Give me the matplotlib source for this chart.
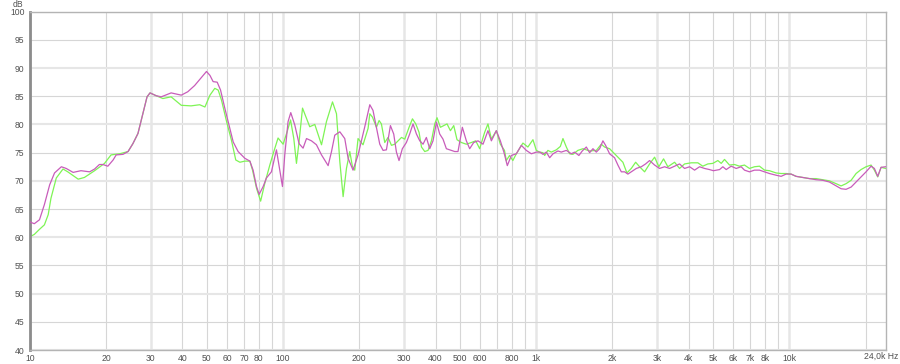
import matplotlib
matplotlib.use("Agg")
import matplotlib.pyplot as plt

# ---------------- data ----------------
freq_magenta = [10, 10.4, 10.9, 11.4, 11.96, 12.5, 13.3, 13.9, 14.8, 15.9, 17.2, 18.0, 18.8, 19.4,
                20.3, 21.3, 21.9, 23.3, 24.4, 25.5, 26.7, 27.9, 29.0, 29.8, 31.5, 33.0, 36.1, 39.6,
                42.0, 44.7, 47.5, 49.8, 51.4, 52.9, 54.9, 56.6, 58.9, 61.6, 63.5, 66.4, 70.6, 73.9,
                76.1, 78.5, 80.4, 83.4, 85.9, 89.9, 94.1, 97.0, 99.4, 101.5, 104.6, 107.2, 111.2,
                115.6, 119.9, 123.7, 129.4, 135.4, 141.8, 150.6, 155.3, 160.0, 167.5, 175.2, 180.6,
                188.9, 197.7, 210.2, 220, 226.5, 233.7, 240.9, 248.3, 255.9, 265.4, 273.5, 280.3,
                287, 295.8, 306.9, 316.2, 326, 336.3, 346.6, 357.1, 368.1, 379.4, 391, 403.4, 415.6,
                428.2, 441.5, 455, 476.3, 490.8, 510.6, 529.5, 545.8, 566, 588.8, 616.3, 644.6,
                664.9, 695.6, 721.4, 745, 768.6, 797.4, 834.2, 873, 913.7, 956.5, 1001, 1034, 1063,
                1096, 1130, 1165, 1218, 1256, 1315, 1376, 1418, 1474, 1520, 1577, 1625, 1675, 1727,
                1780, 1834, 1879, 1949, 2039, 2102, 2168, 2234, 2302, 2374, 2485, 2600, 2704, 2804,
                2935, 3070, 3214, 3365, 3520, 3683, 3855, 4035, 4222, 4418, 4623, 4837, 5013, 5300,
                5460, 5630, 5890, 6166, 6451, 6648, 6958, 7280, 7620, 7978, 8343, 8866, 9279, 9708,
                10160, 10630, 11300, 12005, 12760, 13550, 14390, 15300, 16010, 16750, 17540, 18350,
                19190, 20090, 21030, 21670, 22340, 23030, 24000]
db_magenta = [62.7, 62.4, 63.1, 65.8, 69.3, 71.4, 72.5, 72.2, 71.5, 71.8, 71.6, 72.1, 72.9, 72.9,
              72.6, 73.7, 74.6, 74.7, 75.2, 76.6, 78.4, 81.9, 84.9, 85.6, 85.1, 84.9, 85.6, 85.2,
              85.8, 86.9, 88.3, 89.4, 88.7, 87.6, 87.5, 86.1, 82.8, 79.3, 76.9, 75.2, 74.0, 73.5,
              71.9, 69.0, 67.6, 69.0, 70.5, 71.6, 75.5, 71.9, 69.0, 74.6, 80.5, 82.1, 79.9,
              76.6, 75.8, 77.5, 77.1, 76.4, 74.6, 72.7, 75.2, 78.1, 78.7, 77.5, 74.0,
              71.9, 74.6, 79.6, 83.5, 82.5, 79.5, 76.5, 75.4, 75.5, 79.8, 78.3, 75.1,
              73.6, 75.7, 76.8, 78.3, 80.1, 78.3, 77.1, 76.5, 77.7, 75.7, 77.1, 80.4, 78.3,
              77.4, 75.7, 75.5, 75.2, 75.2, 79.5, 77.1, 75.7, 76.8, 77.1, 76.5, 78.9,
              77.1, 78.9, 77.1, 75.1, 72.7, 74.5, 74.8, 76.3, 75.4, 74.8, 75.1, 75.1, 74.7,
              75.1, 74.1, 74.8, 75.3, 75.1, 75.4, 74.8, 75.1, 74.5, 75.3, 76.0, 75.0, 75.7, 75.1,
              75.7, 77.1, 76.3, 74.8, 74.1, 72.8, 71.6, 71.6, 71.2, 71.6, 72.2, 72.5, 73.0, 73.6,
              72.8, 72.2, 72.5, 72.2, 72.6, 73.0, 72.2, 72.5, 71.9, 72.5, 72.2, 72.0, 71.8, 72.0,
              72.5, 72.0, 72.6, 72.2, 72.5, 71.9, 71.6, 71.9, 71.9, 71.6, 71.3, 71.0, 70.8, 71.2,
              71.2, 70.8, 70.6, 70.4, 70.2, 70.1, 69.8, 69.1, 68.6, 68.5, 68.9, 69.8,
              70.7, 71.6, 72.6, 72.2, 70.8, 72.4, 72.5]

freq_green = [10, 10.4, 10.9, 11.4, 11.8, 12.1, 12.7, 13.5, 14.1, 15.5, 16.4, 18.0, 19.7, 20.9,
              22.6, 24.4, 25.5, 26.7, 27.9, 29.0, 29.8, 31.5, 33.5, 36.1, 39.6, 43.3, 46.8, 49.1,
              51.4, 53.7, 55.4, 57.1, 59.8, 62.5, 65.0, 67.5, 70.6, 73.9, 75.7, 78.5, 81.5, 84.7,
              88.6, 91.9, 95.5, 100, 103.7, 107.0, 110.2, 112.9, 115.6, 119.3, 122.9, 127.4,
              133.4, 141.8, 148.3, 156.7, 162.5, 167.5, 172.6, 177.9, 183.4, 187.9, 191.9, 197.7,
              206.9, 216.6, 220, 225.4, 233.7, 239.4, 244.5, 252.1, 259.8, 267.9, 276.1, 284.5,
              293.5, 302.4, 314.5, 324.3, 334.2, 344.4, 352.1, 362.7, 373.7, 385.5, 397.2, 405.5,
              418.2, 431, 444.2, 458.1, 472.1, 486.4, 506.1, 529.5, 554.3, 576.7, 597.8, 625.3,
              644.6, 664.9, 695.6, 721.4, 749.2, 761.4, 784.6, 808.4, 834.2, 886, 926.8, 970.5,
              1001, 1031, 1063, 1080, 1112, 1147, 1200, 1245, 1275, 1315, 1355, 1396, 1460, 1529,
              1625, 1727, 1807, 1862, 1949, 2039, 2135, 2200, 2281, 2374, 2470, 2560, 2680, 2804,
              2935, 3051, 3184, 3311, 3520, 3683, 3855, 4097, 4350, 4550, 4764, 4986, 5219, 5380,
              5544, 5801, 6070, 6352, 6648, 6958, 7280, 7620, 7978, 8343, 8866, 9279, 9708, 10160,
              10630, 11300, 12005, 12760, 13550, 14390, 15300, 16010, 16750, 17540, 18350, 19190,
              20090, 21030, 21670, 22340, 23030, 24000]
db_green = [60.1, 60.5, 61.4, 62.2, 64.0, 66.9, 70.5, 72.1, 71.6, 70.3, 70.6, 71.8, 73.1, 74.6,
            74.8, 75.2, 76.6, 78.4, 81.9, 84.9, 85.6, 85.1, 84.6, 84.9, 83.4, 83.3, 83.5, 83.1,
            85.2, 86.4, 86.1, 84.3, 80.5, 77.2, 73.7, 73.3, 73.5, 73.5, 71.9, 68.7, 66.4, 69.6,
            72.8, 75.2, 77.6, 76.5, 78.7, 80.8, 77.5, 73.1, 76.9, 82.9, 81.4, 79.6,
            80.0, 76.4, 80.5, 84.0, 81.9, 73.4, 67.2, 72.2, 75.2, 72.5, 71.9, 77.5,
            76.4, 79.3, 81.9, 81.3, 79.5, 80.7, 80.1, 76.8, 77.7, 76.3, 76.5, 77.1,
            77.7, 77.4, 79.5, 81.0, 80.1, 78.6, 76.0, 75.2, 75.4, 77.1, 80.1, 81.2,
            79.5, 79.8, 80.1, 78.9, 79.8, 77.3, 76.8, 76.5, 76.8, 77.1, 75.7, 78.6,
            80.1, 77.4, 78.9, 76.5, 75.4, 73.6, 74.5, 73.6, 74.8, 76.7, 76.0, 77.3,
            75.4, 75.1, 75.0, 74.5, 75.4, 75.1, 75.5, 76.1, 77.5, 76.0, 74.8, 74.7, 75.4, 75.7,
            75.3, 75.4, 76.5, 76.0, 75.7, 74.8, 73.9, 73.3, 71.4, 72.2, 73.3, 72.5, 71.6, 73.0,
            74.2, 72.5, 73.9, 72.5, 73.3, 72.2, 73.0, 73.2, 73.2, 72.6, 73.0, 73.1, 73.6, 73.1,
            73.8, 72.8, 72.9, 72.6, 72.8, 72.2, 72.5, 72.6, 71.9, 71.8, 71.4, 71.3, 71.3, 71.2,
            70.8, 70.6, 70.4, 70.4, 70.2, 70.0, 69.5, 69.1, 69.5, 70.1, 71.3, 72.0,
            72.5, 72.8, 71.9, 70.7, 72.4, 72.2]

x_tick_values = [10, 20, 30, 40, 50, 60, 70, 80, 100, 200, 300, 400, 500, 600, 800,
                 1000, 2000, 3000, 4000, 5000, 6000, 7000, 8000, 10000]
x_tick_labels = ["10", "20", "30", "40", "50", "60", "70", "80", "100", "200", "300", "400",
                 "500", "600", "800", "1k", "2k", "3k", "4k", "5k", "6k", "7k", "8k", "10k"]
y_tick_values = [40, 45, 50, 55, 60, 65, 70, 75, 80, 85, 90, 95, 100]
x_end_label = "24,0k Hz"
y_unit_label = "dB"

# ---------------- figure ----------------
plt.rcParams['font.family'] = ['Liberation Sans', 'DejaVu Sans']
W, H = 900, 364
fig = plt.figure(figsize=(W / 100, H / 100), dpi=100)
fig.patch.set_facecolor('white')
ax = fig.add_axes([30 / W, 1 - 350 / H, (885.6 - 30) / W, (350 - 11.7) / H])
ax.set_xscale('log')
ax.set_xlim(10, 24000)
ax.set_ylim(40, 100)

# grid
major_x = [10, 30, 100, 300, 1000, 3000, 10000]
grid_x = []
for dec in [10, 100, 1000]:
    grid_x += [dec * k for k in range(1, 10)]
grid_x += [10000, 20000]
for g in grid_x:
    if g in major_x:
        ax.axvline(g, color='#e6e6e6', lw=1.8, zorder=0)
    else:
        ax.axvline(g, color='#d6d6d6', lw=0.8, zorder=0)
for v in y_tick_values:
    if v % 10 == 0:
        ax.axhline(v, color='#e6e6e6', lw=1.5, zorder=0)
    else:
        ax.axhline(v, color='#d6d6d6', lw=0.8, zorder=0)

# curves
ax.plot(freq_magenta, db_magenta, color='#c85cba', lw=0.9, zorder=3)
ax.plot(freq_green, db_green, color='#7ef455', lw=0.9, zorder=2)

# ticks
ax.set_xticks(x_tick_values)
ax.set_xticklabels(x_tick_labels)
ax.xaxis.set_minor_locator(matplotlib.ticker.NullLocator())
ax.set_yticks(y_tick_values)
ax.set_yticklabels([str(v) for v in y_tick_values])
ax.tick_params(axis='both', length=0, labelsize=6.2, colors='#505050')
ax.tick_params(axis='x', pad=3)
ax.tick_params(axis='y', pad=4)

for side in ['top', 'right', 'bottom']:
    ax.spines[side].set_color('#b4b4b4')
    ax.spines[side].set_linewidth(1.0)
ax.spines['left'].set_color('#8c8c8c')
ax.spines['left'].set_linewidth(2.0)

fig.text(898 / W, 1 - 356 / H, x_end_label, ha='right', va='center', fontsize=6.2, color='#505050')
fig.text(18 / W, 1 - 4.5 / H, y_unit_label, ha='center', va='center', fontsize=6.2, color='#505050')

fig.savefig('out.png', dpi=100, facecolor='white')
